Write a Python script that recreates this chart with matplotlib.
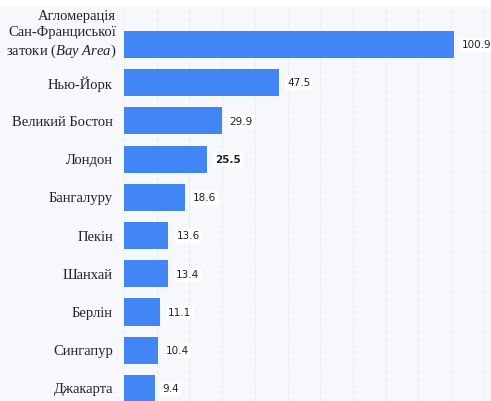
import matplotlib
matplotlib.use("Agg")
import matplotlib.pyplot as plt
from matplotlib.patches import Rectangle

categories = ["Агломерація\nСан-Франциської\nзатоки ($\\it{Bay\\ Area}$)", "Нью-Йорк", "Великий Бостон", "Лондон",
              "Бангалуру", "Пекін", "Шанхай", "Берлін", "Сингапур", "Джакарта"]
values = [100.9, 47.5, 29.9, 25.5, 18.6, 13.6, 13.4, 11.1, 10.4, 9.4]
bold_label = "Лондон"

plt.rcParams['mathtext.fontset'] = 'custom'
plt.rcParams['mathtext.rm'] = 'Liberation Serif'
plt.rcParams['mathtext.it'] = 'Liberation Serif:italic'

W, H = 491, 401
bg = '#f7f8fc'
fig = plt.figure(figsize=(W/100, H/100), dpi=100, facecolor=bg)
fig.patches.append(Rectangle((0, 1 - 7/H), 1, 7/H, transform=fig.transFigure,
                             facecolor='white', edgecolor='none', zorder=0))

ax = fig.add_axes([124/W, 0, (W-124)/W, (H-7)/H])
ax.set_facecolor(bg)
ypos = list(range(len(categories)))
ax.barh(ypos, values, height=0.71, color='#4285f4', zorder=3)
ax.set_ylim(9.33, -0.98)
ax.set_xlim(0, 112.2)
ax.set_xticks([i*10 for i in range(12)])
ax.xaxis.grid(True, color='#eaecf2', linestyle=(0, (4, 2)), linewidth=0.8, zorder=0)
ax.tick_params(axis='x', length=0, labelbottom=False)
ax.tick_params(axis='y', length=0, pad=8)
for s in ax.spines.values():
    s.set_visible(False)

ax.set_yticks(ypos[1:])
ax.set_yticklabels(categories[1:], fontfamily='Liberation Serif', fontsize=10.5, color='#222222')
ax.text(-8/3.27, -0.26, categories[0], ha='right', va='center', multialignment='right',
        fontfamily='Liberation Serif', fontsize=10.5, color='#222222', linespacing=1.3,
        clip_on=False)

for y, v, c in zip(ypos, values, categories):
    ax.text(v + 2.4, y + 0.02, f"{v}", ha='left', va='center', fontsize=7.5,
            fontweight='bold' if c == bold_label else 'normal', color='#222222',
            bbox=dict(boxstyle='round,pad=0.2', facecolor='white', edgecolor='none'),
            zorder=4, clip_on=False)

fig.savefig('out.png', dpi=100, facecolor=bg)
